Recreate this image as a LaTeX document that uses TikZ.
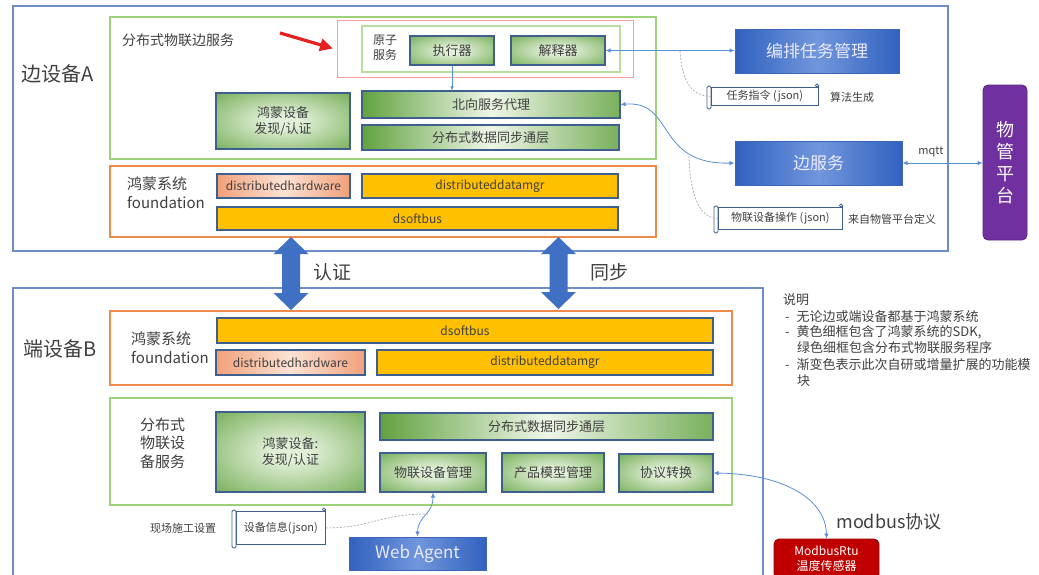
\documentclass[tikz,border=0pt]{standalone}
\usepackage{fontspec}
\setmainfont{Noto Sans CJK SC}
\usetikzlibrary{arrows.meta}
\definecolor{frameblue}{HTML}{6F8DC6}
\definecolor{gframe}{HTML}{9FD07A}
\definecolor{gframelt}{HTML}{B9DD9F}
\definecolor{oframe}{HTML}{F08A4B}
\definecolor{rthin}{HTML}{F4A0A0}
\definecolor{bord}{HTML}{3F5F8F}
\definecolor{gD}{HTML}{62A240}
\definecolor{gL}{HTML}{EEF6E8}
\definecolor{gM}{HTML}{E2F0D9}
\definecolor{oD}{HTML}{F1A07A}
\definecolor{oL}{HTML}{FCE3D5}
\definecolor{yel}{HTML}{FFC000}
\definecolor{bD}{HTML}{3162BF}
\definecolor{bL}{HTML}{7196DC}
\definecolor{bbord}{HTML}{3A66B5}
\definecolor{mpurple}{HTML}{7030A0}
\definecolor{mred}{HTML}{C00000}
\definecolor{cblue}{HTML}{5B8FD6}
\definecolor{dgray}{HTML}{A8A8B8}
\definecolor{txt}{HTML}{404040}
\definecolor{arrowred}{HTML}{E52121}
\definecolor{barrowc}{HTML}{4070C4}
\pgfdeclareradialshading{gradial}{\pgfpoint{0bp}{0bp}}{color(0bp)=(gM); color(6bp)=(gM); color(42bp)=(gD); color(100bp)=(gD)}
\newcommand\myfs[2]{\fontsize{#1}{#2}\selectfont}
\newcommand\myscroll[6]{%
  \draw[scrl, rounded corners=1.5pt] (#2,#3+2) rectangle (#2+4,#5);
  \node[scrollbody, minimum width={#4-#2-4}, minimum height={#5-#3-7}, anchor=north west] (#1) at (#2+4,#3+3) {#6};
  \draw[scrl] (#4,#3+3) -- (#4,#3+1);
  \draw[scrl, fill=white] (#4-1,#3+1.5) circle (1.6);
}
\newcommand\dblarrow[3]{%
  \fill[barrowc] (#1,#2) -- (#1+17.5,#2+17) -- (#1+9,#2+17) -- (#1+9,#3-17) -- (#1+17.5,#3-17)
    -- (#1,#3) -- (#1-17.5,#3-17) -- (#1-9,#3-17) -- (#1-9,#2+17) -- (#1-17.5,#2+17) -- cycle;
}
\begin{document}
\begin{tikzpicture}[x=1pt,y=-1pt,
  box/.style={draw=bord, line width=1.1pt, inner sep=0pt, text=txt, font=\myfs{13}{16}, align=center},
  gbox/.style={box, shading=gradial},
  gbar/.style={box, left color=gD, right color=gD!85, middle color=gL},
  ybox/.style={box, fill=yel, font=\myfs{12}{14}},
  obox/.style={box, left color=oD, right color=oD, middle color=oL, font=\myfs{12}{14}},
  bbox/.style={draw=bbord, line width=1pt, inner sep=0pt, left color=bD, right color=bD, middle color=bL, text=white!92!blue, font=\myfs{17}{20}},
  lbl/.style={inner sep=0pt, text=txt, align=left},
  scrl/.style={draw=bord, line width=0.8pt},
  scrollbody/.style={draw=bord, line width=0.8pt, fill=white, inner sep=0pt, text=txt, font=\myfs{11}{13}},
  conn/.style={draw=cblue, line width=0.8pt, {Latex[length=5pt,width=4.5pt]}-{Latex[length=5pt,width=4.5pt]}},
  dconn/.style={draw=dgray, line width=0.7pt, dash pattern=on 2pt off 1.5pt},
  frameA/.style={draw=frameblue, line width=1.2pt},
  gfr/.style={draw=gframe, line width=1.5pt},
  ofr/.style={draw=oframe, line width=1.5pt}
]
\useasboundingbox (0,0) rectangle (1039,574);
\fill[white] (0,0) rectangle (1039,574);

% ---------- device A ----------
\draw[frameA] (13,6) rectangle (948,251);
\node[lbl, anchor=west, font=\myfs{20}{24}] (titleA) at (21,74) {边设备A};
\draw[gfr] (110,17) rectangle (656,159);
\node[lbl, anchor=west, font=\myfs{14}{17}] (svcA) at (122,40) {分布式物联边服务};
\draw[draw=rthin, line width=0.9pt] (337,20) rectangle (633,77);
\draw[draw=gframelt, line width=1.2pt] (362,26) rectangle (620,72);
\node[lbl, align=center, font=\myfs{12}{15}] (atom) at (385,48) {原子\\服务};
\node[gbox, minimum width=84, minimum height=29] (exec) at (452,50.5) {执行器};
\node[gbox, minimum width=94, minimum height=29] (interp) at (558,50.5) {解释器};
\node[gbox, minimum width=134, minimum height=56] (hmA) at (283,121) {鸿蒙设备\\发现/认证};
\node[gbar, minimum width=258, minimum height=27] (north) at (491,104.5) {北向服务代理};
\node[gbar, minimum width=257, minimum height=25] (syncA) at (490.5,137.5) {分布式数据同步通层};
\draw[ofr] (110,166) rectangle (656,237);
\node[lbl, font=\myfs{15}{19}] (fndA) at (127,193) [anchor=west] {鸿蒙系统\\foundation};
\node[obox, minimum width=133, minimum height=24] (dhA) at (283.5,186) {distributedhardware};
\node[ybox, minimum width=256, minimum height=24] (ddA) at (490,186) {distributeddatamgr};
\node[ybox, minimum width=401, minimum height=23] (dsA) at (417.5,218.5) {dsoftbus};

\draw[cblue, line width=0.7pt, -{Latex[length=4pt,width=3.5pt]}] (exec.south) -- (exec.south |- north.north);

\node[bbox, minimum width=164, minimum height=44] (orch) at (817,51) {编排任务管理};
\node[bbox, minimum width=167, minimum height=44] (edge) at (818.5,163) {边服务};
\node[draw=mpurple!80!black, line width=0.8pt, fill=mpurple, rounded corners=5pt, minimum width=44, minimum height=155, inner sep=0pt, text=white, align=center, font=\myfs{18}{22}] (wg) at (1005,162.5) {物\\管\\平\\台};

\myscroll{s1}{707}{84}{818}{109}{任务指令 (json)}
\node[lbl, anchor=west, font=\myfs{11}{13}] (algo) at (830,97) {算法生成};
\myscroll{s2}{714}{204}{842}{233}{物联设备操作 (json)}
\node[lbl, anchor=west, font=\myfs{11}{13}] (defn) at (848,219) {来自物管平台定义};

\draw[conn] (interp.east) -- (interp.east -| orch.west);
\coordinate (d1) at (680,51);
\draw[dconn] (d1) .. controls (682,80) and (690,96) .. (s1.west);
\draw[conn] (north.east) .. controls (675,100) and (655,165) .. (edge.west);
\coordinate (d2) at (689,156);
\draw[dconn] (d2) .. controls (690,190) and (697,218) .. (s2.west);
\draw[conn] (edge.east) -- (edge.east -| wg.west);
\node[lbl, font=\myfs{11}{13}] (mqtt) at (931,152) {mqtt};

% red arrow
\coordinate (ra1) at (280,33);
\coordinate (ra2) at (333,48.5);
\draw[arrowred, line width=3.2pt, -{Triangle[length=13pt,width=12pt]}] (ra1) -- (ra2);

% ---------- device B ----------
\draw[frameA] (13,576) -- (13,288) -- (763,288) -- (763,576);
\node[lbl, anchor=west, font=\myfs{20}{24}] (titleB) at (23,349) {端设备B};
\draw[ofr] (110,311) rectangle (732,385);
\node[lbl, font=\myfs{15}{19}] (fndB) at (131,347.5) [anchor=west] {鸿蒙系统\\foundation};
\node[ybox, minimum width=496, minimum height=25] (dsB) at (465,330.5) {dsoftbus};
\node[obox, minimum width=149, minimum height=25] (dhB) at (290.5,362.5) {distributedhardware};
\node[ybox, minimum width=336, minimum height=25] (ddB) at (545,362.5) {distributeddatamgr};
\draw[gfr] (110,398) rectangle (732,505);
\node[lbl, align=left, font=\myfs{15}{18.5}] (svcB) at (140,443) [anchor=west] {分布式\\物联设\\备服务};
\node[gbox, minimum width=149, minimum height=80] (hmB) at (290.5,452) {鸿蒙设备:\\发现/认证};
\node[gbar, minimum width=333, minimum height=27] (syncB) at (546.5,426.5) {分布式数据同步通层};
\node[gbox, minimum width=106, minimum height=39] (iotm) at (433,472.5) {物联设备管理};
\node[gbox, minimum width=102, minimum height=39] (prod) at (553,472.5) {产品模型管理};
\node[gbox, minimum width=94, minimum height=38] (proto) at (666,473) {协议转换};

\myscroll{s3}{232}{508}{325}{548}{设备信息(json)}
\node[lbl, font=\myfs{11}{13}] (site) at (183,528) {现场施工设置};
\node[bbox, minimum width=137, minimum height=33] (web) at (417.5,553.5) {Web Agent};
\node[draw=mred!80!black, line width=0.8pt, fill=mred, rounded corners=5pt, minimum width=105, minimum height=40, inner sep=0pt, text=white, align=center, font=\myfs{12}{15}] (mb) at (826.5,559) {ModbusRtu\\温度传感器};
\node[lbl, font=\myfs{18}{22}] (mbp) at (889,522) {modbus协议};

\draw[conn] (iotm.south) .. controls (433,515) and (418,515) .. (web.north);
\coordinate (d3) at (428,514);
\draw[dconn] (s3.east) .. controls (372,528) and (378,514) .. (d3);
\draw[conn] (proto.east) .. controls (785,474) and (826,500) .. (mb.north);

% notes
\node[lbl, anchor=west, font=\myfs{13}{16}] (n0) at (783,300) {说明};
\node[lbl, anchor=west, font=\myfs{13}{16}] (n1) at (785,317) {-\hspace{7pt}无论边或端设备都基于鸿蒙系统};
\node[lbl, anchor=west, font=\myfs{13}{16}] (n2) at (785,332) {-\hspace{7pt}黄色细框包含了鸿蒙系统的SDK,};
\node[lbl, anchor=west, font=\myfs{13}{16}] (n3) at (797,348) {绿色细框包含分布式物联服务程序};
\node[lbl, anchor=west, font=\myfs{13}{16}] (n4) at (785,365) {-\hspace{7pt}渐变色表示此次自研或增量扩展的功能模};
\node[lbl, anchor=west, font=\myfs{13}{16}] (n5) at (797,381) {块};

% big double arrows
\dblarrow{291}{237}{310}
\dblarrow{558.5}{237}{309}
\node[lbl, anchor=west, font=\myfs{19}{22}] (auth) at (313,272) {认证};
\node[lbl, anchor=west, font=\myfs{19}{22}] (sync) at (590,272) {同步};
\end{tikzpicture}
\end{document}
